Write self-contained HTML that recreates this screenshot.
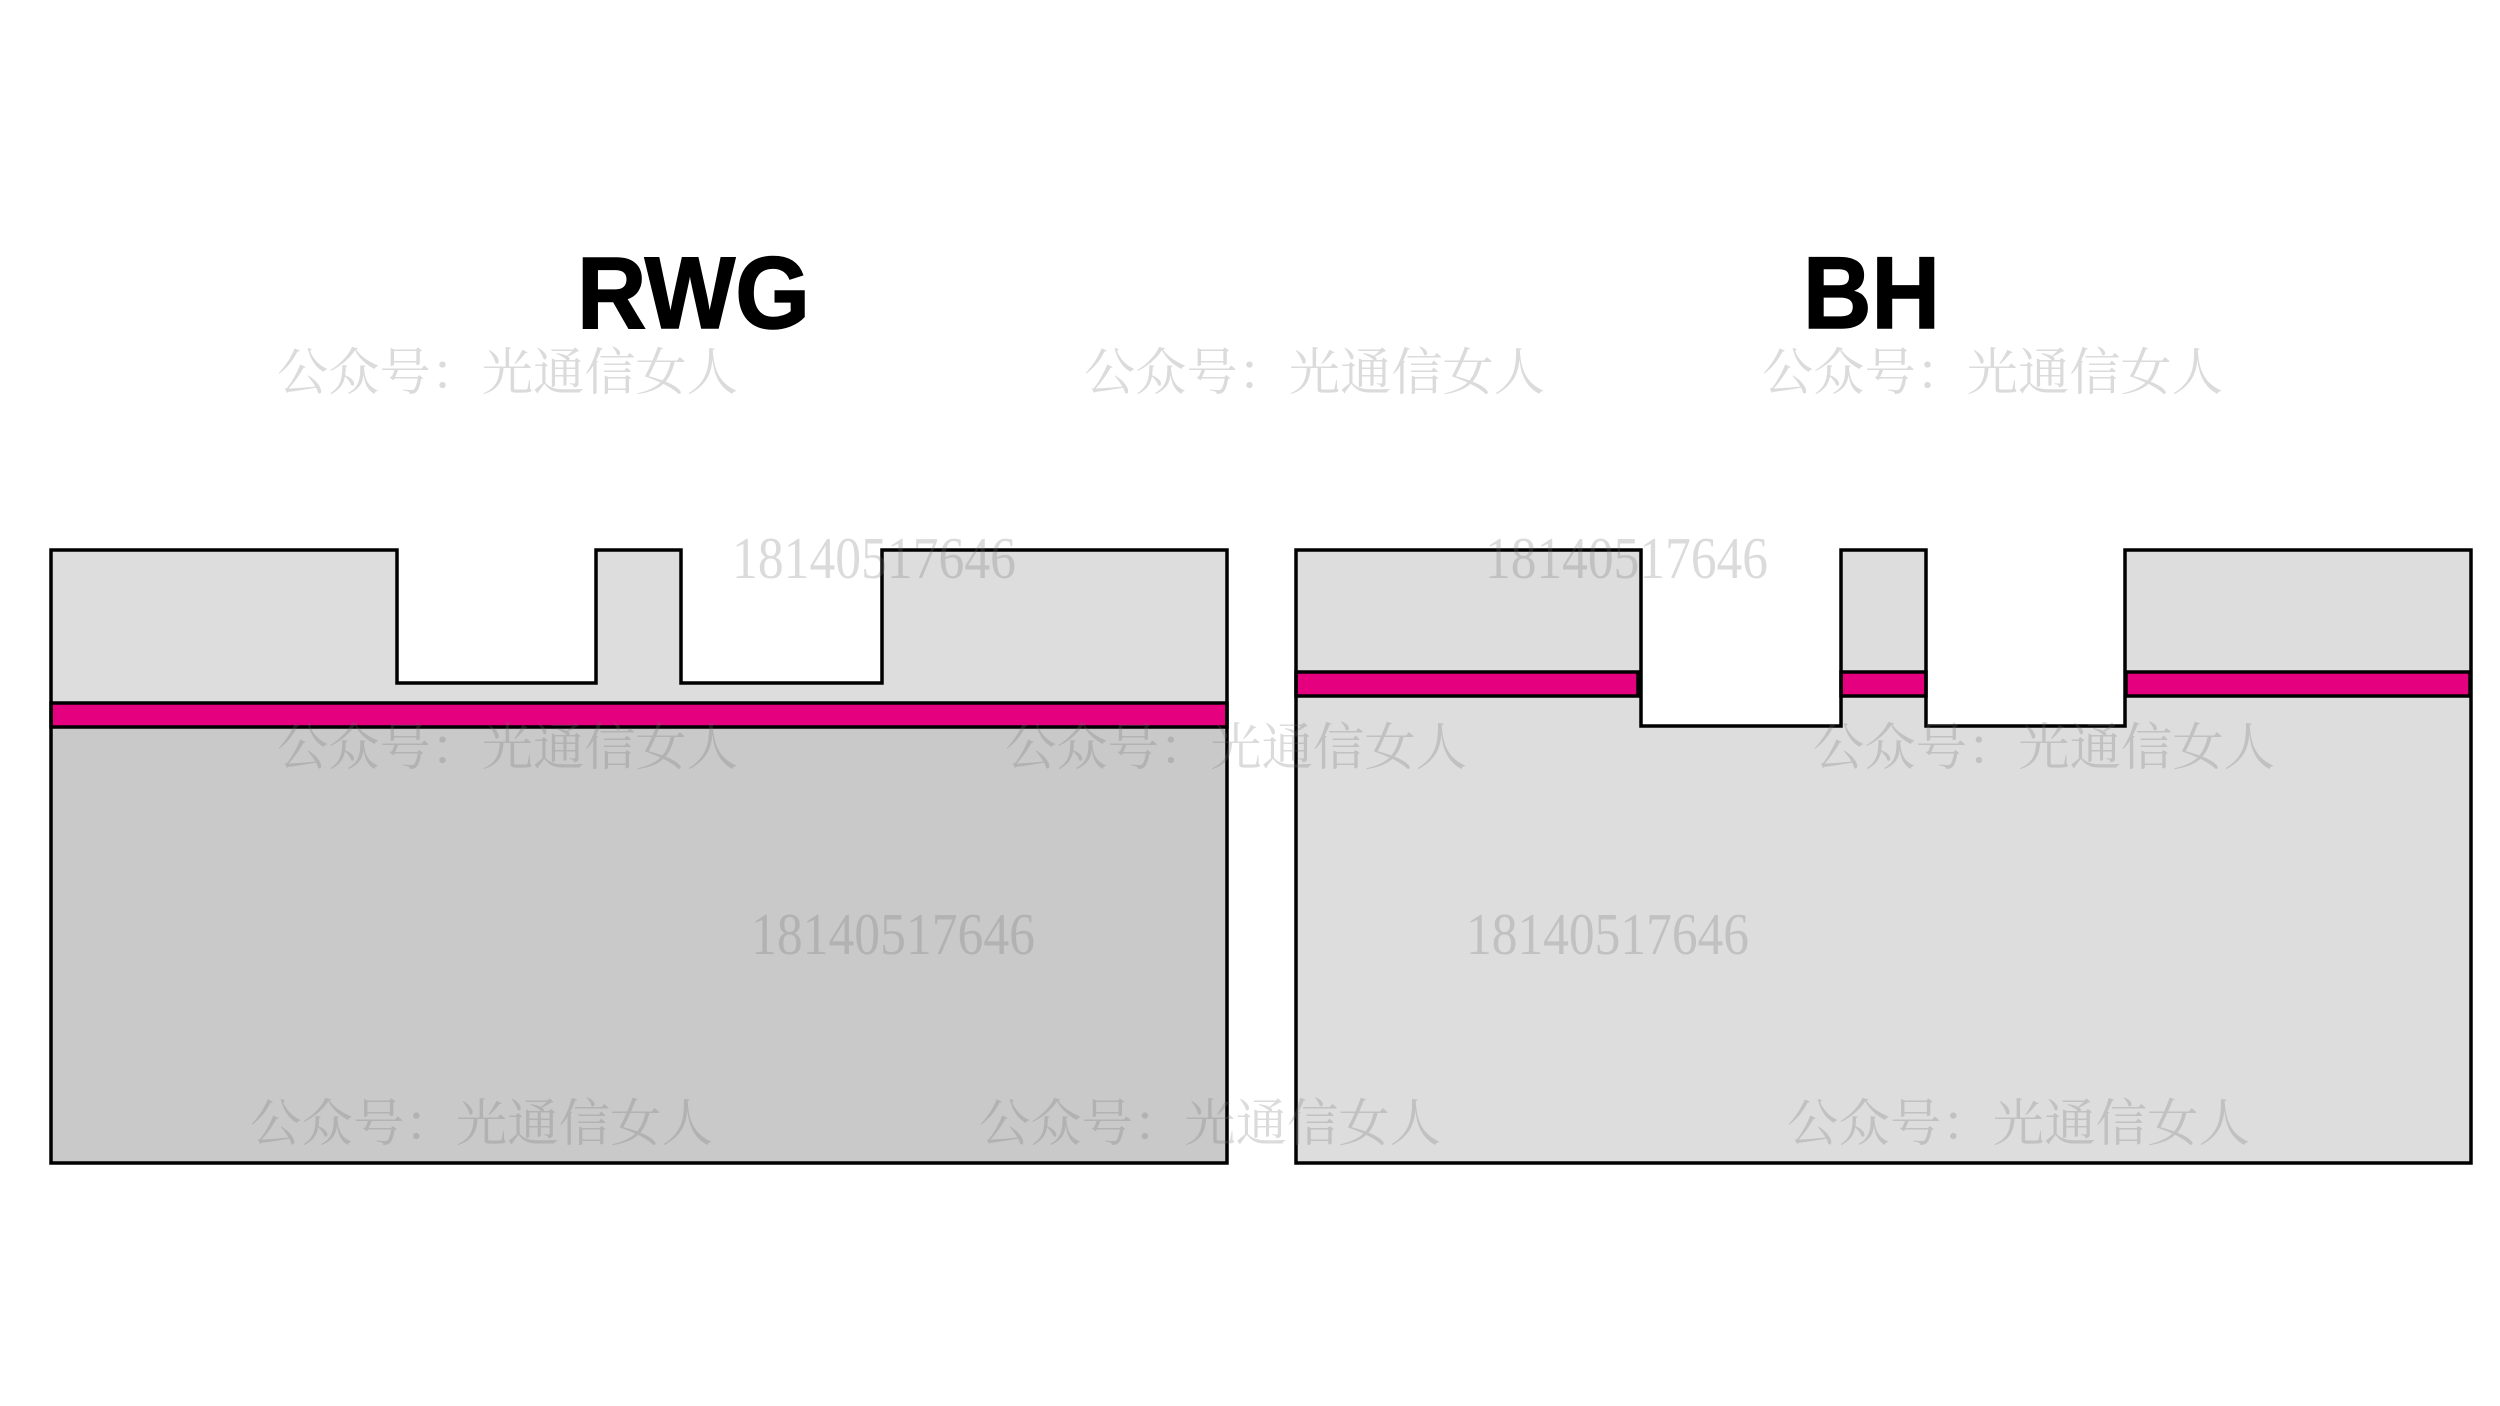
<!DOCTYPE html>
<html>
<head>
<meta charset="utf-8">
<style>
  html, body { margin: 0; padding: 0; background: #ffffff; }
  body { width: 2500px; height: 1406px; overflow: hidden; }
  svg { display: block; }
  .title { font-family: "Liberation Sans", "DejaVu Sans", sans-serif; font-weight: bold; font-size: 102px; fill: #000; stroke: #000; stroke-width: 1.5; }
  .wm { font-family: "Liberation Serif", "Noto Serif CJK SC", serif; font-size: 51px; fill: #6e6e6e; fill-opacity: 0.25; }
  .wmn { font-family: "Liberation Serif", serif; font-size: 59px; fill: #6e6e6e; fill-opacity: 0.25; }
</style>
</head>
<body>
<svg width="2500" height="1406" viewBox="0 0 2500 1406" xmlns="http://www.w3.org/2000/svg">
  <rect x="0" y="0" width="2500" height="1406" fill="#ffffff"/>

  <!-- Titles -->
  <text class="title" x="577" y="328" textLength="233" lengthAdjust="spacingAndGlyphs">RWG</text>
  <text class="title" x="1803" y="328" textLength="137" lengthAdjust="spacingAndGlyphs">BH</text>

  <!-- RWG structure -->
  <polygon points="51,550 397,550 397,683 596,683 596,550 681,550 681,683 882,683 882,550 1227,550 1227,1163 51,1163" fill="#dcdddc"/>
  <rect x="51" y="727" width="1176" height="436" fill="#c8c9c8"/>
  <rect x="51" y="703" width="1176" height="24" fill="#e4007f" stroke="#000" stroke-width="3.5"/>
  <polygon points="51,550 397,550 397,683 596,683 596,550 681,550 681,683 882,683 882,550 1227,550 1227,1163 51,1163" fill="none" stroke="#000" stroke-width="3.5" stroke-linejoin="miter"/>

  <!-- BH structure -->
  <polygon points="1296,550 1641,550 1641,726 1841,726 1841,550 1926,550 1926,726 2125,726 2125,550 2471,550 2471,1163 1296,1163" fill="#dcdddc"/>
  <rect x="1296" y="672" width="342" height="24" fill="#e4007f" stroke="#000" stroke-width="3.5"/>
  <rect x="1841" y="672" width="85" height="24" fill="#e4007f" stroke="#000" stroke-width="3.5"/>
  <rect x="2126" y="672" width="344" height="24" fill="#e4007f" stroke="#000" stroke-width="3.5"/>
  <polygon points="1296,550 1641,550 1641,726 1841,726 1841,550 1926,550 1926,726 2125,726 2125,550 2471,550 2471,1163 1296,1163" fill="none" stroke="#000" stroke-width="3.5" stroke-linejoin="miter"/>

  <!-- Watermarks: CJK row 1 -->
  <text class="wm" x="277" y="390" textLength="461" lengthAdjust="spacingAndGlyphs">公众号：光通信女人</text>
  <text class="wm" x="1084" y="390" textLength="461" lengthAdjust="spacingAndGlyphs">公众号：光通信女人</text>
  <text class="wm" x="1762" y="390" textLength="461" lengthAdjust="spacingAndGlyphs">公众号：光通信女人</text>

  <!-- Digits row 1 -->
  <text class="wmn" x="732" y="578" textLength="284" lengthAdjust="spacingAndGlyphs">18140517646</text>
  <text class="wmn" x="1485" y="578" textLength="283" lengthAdjust="spacingAndGlyphs">18140517646</text>

  <!-- CJK row 2 -->
  <text class="wm" x="277" y="765" textLength="461" lengthAdjust="spacingAndGlyphs">公众号：光通信女人</text>
  <text class="wm" x="1005" y="765" textLength="462" lengthAdjust="spacingAndGlyphs">公众号：光通信女人</text>
  <text class="wm" x="1813" y="765" textLength="462" lengthAdjust="spacingAndGlyphs">公众号：光通信女人</text>

  <!-- Digits row 2 -->
  <text class="wmn" x="751" y="954" textLength="284" lengthAdjust="spacingAndGlyphs">18140517646</text>
  <text class="wmn" x="1466" y="954" textLength="283" lengthAdjust="spacingAndGlyphs">18140517646</text>

  <!-- CJK row 3 -->
  <text class="wm" x="250" y="1141" textLength="463" lengthAdjust="spacingAndGlyphs">公众号：光通信女人</text>
  <text class="wm" x="979" y="1141" textLength="462" lengthAdjust="spacingAndGlyphs">公众号：光通信女人</text>
  <text class="wm" x="1787" y="1141" textLength="463" lengthAdjust="spacingAndGlyphs">公众号：光通信女人</text>
</svg>
</body>
</html>
